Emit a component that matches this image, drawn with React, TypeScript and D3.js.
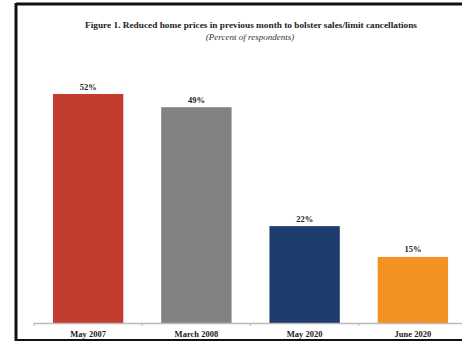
import React from "react";
import * as d3 from "d3";

const categories = ["May 2007", "March 2008", "May 2020", "June 2020"];
const values = [52, 49, 22, 15];
const colors = ["#c33c2f", "#828282", "#1e3d6f", "#f39222"];
const title = "Figure 1. Reduced home prices in previous month to bolster sales/limit cancellations";
const subtitle = "(Percent of respondents)";

export default function App() {
  const W = 462, H = 342;
  const baseY = 323;
  const x = d3.scaleBand<string>().domain(categories).range([34, 467]).paddingInner(0.35).paddingOuter(0.175);
  const y = d3.scaleLinear().domain([0, 52]).range([baseY, 94]);
  const font = "'Liberation Serif', 'Times New Roman', serif";
  const boundaries = categories.map((c) => (x(c) as number) - (x.step() - x.bandwidth()) / 2);
  return (
    <svg width={W} height={H} style={{ position: "absolute", left: 0, top: 0, background: "#fff" }}>
      <rect x={0} y={0} width={W} height={H} fill="#fff" />
      <line x1={16} y1={4} x2={W} y2={4} stroke="#111" strokeWidth={3} />
      <line x1={16} y1={3} x2={16} y2={341} stroke="#111" strokeWidth={3} />
      <line x1={15} y1={340} x2={W} y2={340} stroke="#111" strokeWidth={2} />
      <text x={251} y={27.5} textAnchor="middle" fontFamily={font} fontWeight="bold" fontSize={9} textLength={332} lengthAdjust="spacingAndGlyphs" fill="#222">{title}</text>
      <text x={250} y={40} textAnchor="middle" fontFamily={font} fontStyle="italic" fontSize={9} fill="#333">{subtitle}</text>
      {categories.map((c, i) => (
        <g key={c}>
          <rect x={x(c)} y={y(values[i])} width={x.bandwidth()} height={baseY - y(values[i])} fill={colors[i]} />
          <text x={(x(c) as number) + x.bandwidth() / 2} y={y(values[i]) - 4.5} textAnchor="middle" fontFamily={font} fontWeight="bold" fontSize={8.5} fill="#222">{values[i]}%</text>
          <text x={(x(c) as number) + x.bandwidth() / 2} y={337} textAnchor="middle" fontFamily={font} fontWeight="bold" fontSize={8.5} fill="#222">{c}</text>
        </g>
      ))}
      <line x1={34} y1={baseY + 0.5} x2={W} y2={baseY + 0.5} stroke="#bbb" strokeWidth={1.5} />
      {boundaries.concat([467]).map((b, i) => (
        <line key={i} x1={b} y1={baseY} x2={b} y2={baseY + 3} stroke="#bbb" strokeWidth={1} />
      ))}
    </svg>
  );
}
